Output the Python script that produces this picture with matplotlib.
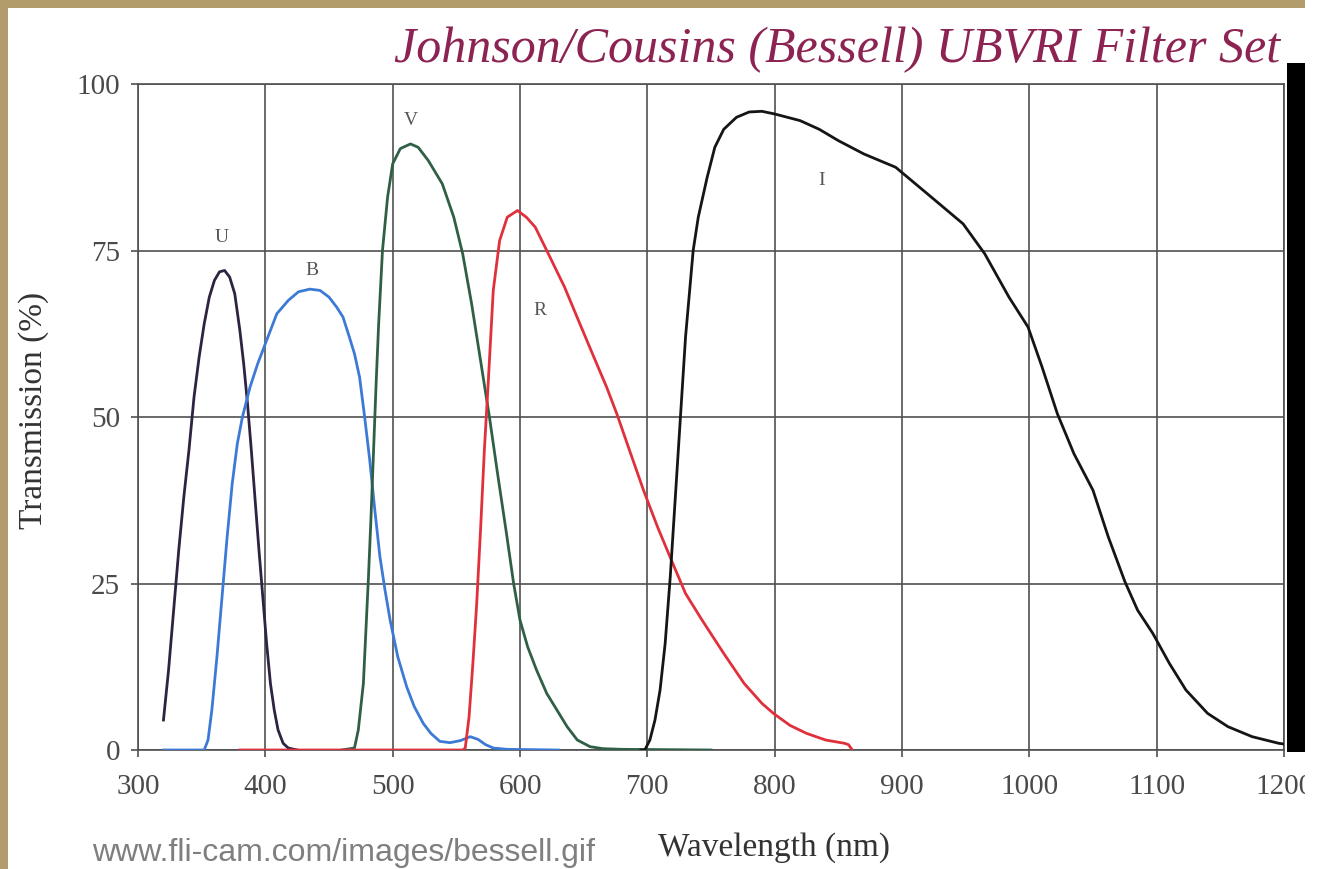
import matplotlib
matplotlib.use("Agg")
import matplotlib.pyplot as plt
from matplotlib.patches import Rectangle

# ---------------- data ----------------
u_wl = [320, 324, 328, 332, 336, 340, 344, 348, 352, 356, 360, 364, 368, 372, 376, 380,
        383, 386, 389, 392, 395, 398, 401, 404, 407, 410, 414, 418, 425]
u_tr = [4.5, 12, 21, 30, 38, 45, 53, 59, 64, 68, 70.5, 71.8, 72, 71, 68.5, 63,
        58, 52, 45, 37.5, 30, 23, 16, 10, 6, 3, 1, 0.3, 0]

b_wl = [320, 352, 355, 358, 362, 366, 370, 374, 378, 382, 388, 394, 400, 409, 418, 426,
        435, 443, 450, 456, 461, 466, 470, 474, 478, 482, 486, 490, 494, 498, 504, 511,
        517, 524, 530, 537, 545, 553, 561, 567, 573, 579, 590, 630]
b_tr = [0, 0, 1.5, 6, 14, 23, 32, 40, 46, 50, 54.5, 58, 61, 65.5, 67.5, 68.8,
        69.2, 69, 68, 66.5, 65, 62, 59.5, 56, 50, 43.5, 36, 29, 24, 19.5, 14, 9.5,
        6.5, 4, 2.5, 1.3, 1.1, 1.4, 2, 1.6, 0.8, 0.3, 0.1, 0]

v_wl = [460, 470, 473, 477, 479, 481, 483, 485, 487, 489, 492, 496, 500, 506, 514, 520,
        528, 539, 548, 555, 562, 569, 576, 582, 589, 595, 600, 606, 613, 621, 629, 637,
        645, 655, 665, 680, 750]
v_tr = [0, 0.3, 3, 10, 18, 26, 35, 45, 55, 64, 75, 83, 88, 90.3, 91, 90.5,
        88.5, 85, 80, 74.5, 67, 58.5, 50, 42, 33, 25, 19.5, 15.5, 12, 8.5, 6, 3.5,
        1.5, 0.5, 0.2, 0.1, 0]

r_wl = [380, 555, 557, 560, 563, 566, 569, 572, 575, 579, 584, 590, 598, 605, 612, 621,
        635, 647, 658, 668, 676, 686, 697, 708, 720, 730, 743, 760, 776, 790, 799, 812,
        825, 840, 855, 858, 861]
r_tr = [0, 0, 0.3, 5, 13, 22, 33, 45, 55, 69, 76.5, 80, 81, 80, 78.5, 75,
        69.5, 64, 59, 54.5, 50.5, 45, 39, 33.5, 28, 23.5, 19.5, 14.5, 10, 7, 5.5, 3.7,
        2.5, 1.5, 1.0, 0.8, 0]

i_wl = [695, 698, 702, 706, 710, 714, 718, 722, 726, 730, 736, 740, 747, 753, 760, 770,
        780, 790, 800, 810, 820, 835, 850, 870, 895, 920, 948, 965, 984, 999, 1010, 1022,
        1035, 1050, 1062, 1075, 1085, 1097, 1110, 1123, 1140, 1156, 1175, 1196, 1200]
i_tr = [0, 0, 1.5, 4.5, 9, 16, 26, 38, 50, 62, 75, 80, 86, 90.5, 93.2, 95,
        95.8, 95.9, 95.5, 95, 94.5, 93.2, 91.5, 89.5, 87.5, 83.5, 79, 74.5, 68, 63.5, 57.5, 50.5,
        44.5, 39, 32, 25.3, 21, 17.5, 13, 9, 5.5, 3.5, 2, 1, 0.9]

band_names = ["U", "B", "V", "R", "I"]
band_label_x = [366, 437, 514, 616, 837]
band_label_y = [77, 72, 94.5, 66, 85.5]

x_ticks = [300, 400, 500, 600, 700, 800, 900, 1000, 1100, 1200]
y_ticks = [0, 25, 50, 75, 100]

# ---------------- figure ----------------
W, H = 1321, 869
fig = plt.figure(figsize=(W / 100, H / 100), dpi=100, facecolor="white")

ax = fig.add_axes([138 / W, 1 - 750 / H, (1284 - 138) / W, (750 - 84) / H])
ax.set_facecolor("white")

serif = "Liberation Serif"
grid_col = "#505050"

series = [(u_wl, u_tr, "#2e2340"), (b_wl, b_tr, "#3d7ad6"), (v_wl, v_tr, "#2f6046"),
          (r_wl, r_tr, "#e0303c"), (i_wl, i_tr, "#151515")]
for wl, tr, col in series:
    ax.plot(wl, tr, color=col, lw=2.0, solid_joinstyle="round", zorder=3)

for name, lx, ly in zip(band_names, band_label_x, band_label_y):
    ax.text(lx, ly, name, family=serif, fontsize=14, color="#555555",
            ha="center", va="center", zorder=4)

ax.set_xlim(300, 1200)
ax.set_ylim(0, 100)
ax.set_xticks(x_ticks)
ax.set_yticks(y_ticks)
ax.grid(True, color=grid_col, lw=1.2, zorder=1)
for s in ax.spines.values():
    s.set_color(grid_col)
    s.set_linewidth(1.2)
ax.tick_params(direction="out", length=5, width=1.2, color=grid_col,
               labelsize=21, labelcolor="#4a4a4a")
ax.tick_params(axis="x", pad=12)
ax.tick_params(axis="y", pad=8)
for lab in ax.get_xticklabels() + ax.get_yticklabels():
    lab.set_family(serif)

fig.text(774 / W, 1 - 848 / H, "Wavelength (nm)", family=serif, fontsize=24,
         color="#333333", ha="center", va="center")
fig.text(34 / W, 1 - 410 / H, "Transmission (%)", family=serif, fontsize=24,
         color="#333333", ha="center", va="center", rotation=90)

fig.text(1280 / W, 1 - 50 / H, "Johnson/Cousins (Bessell) UBVRI Filter Set",
         family=serif, style="italic", fontsize=36, color="#8c2352",
         ha="right", va="center")

fig.text(92 / W, 1 - 853 / H, "www.fli-cam.com/images/bessell.gif",
         family="Liberation Sans", fontsize=23, color="#7f7f7f",
         ha="left", va="center")

# decorative frame: parchment strips, black bar, cut edge
tan = "#b39c6c"
fig.patches.append(Rectangle((0, 1 - 8 / H), 1305 / W, 8 / H, transform=fig.transFigure,
                             facecolor=tan, edgecolor="none", zorder=10))
fig.patches.append(Rectangle((0, 0), 8 / W, 1, transform=fig.transFigure,
                             facecolor=tan, edgecolor="none", zorder=10))
fig.patches.append(Rectangle((1287 / W, 1 - 752 / H), 18 / W, (752 - 63) / H,
                             transform=fig.transFigure, facecolor="black",
                             edgecolor="none", zorder=10))
fig.patches.append(Rectangle((1305 / W, 0), 16 / W, 1, transform=fig.transFigure,
                             facecolor="white", edgecolor="none", zorder=10))

fig.savefig("out.png", dpi=100, facecolor="white")
